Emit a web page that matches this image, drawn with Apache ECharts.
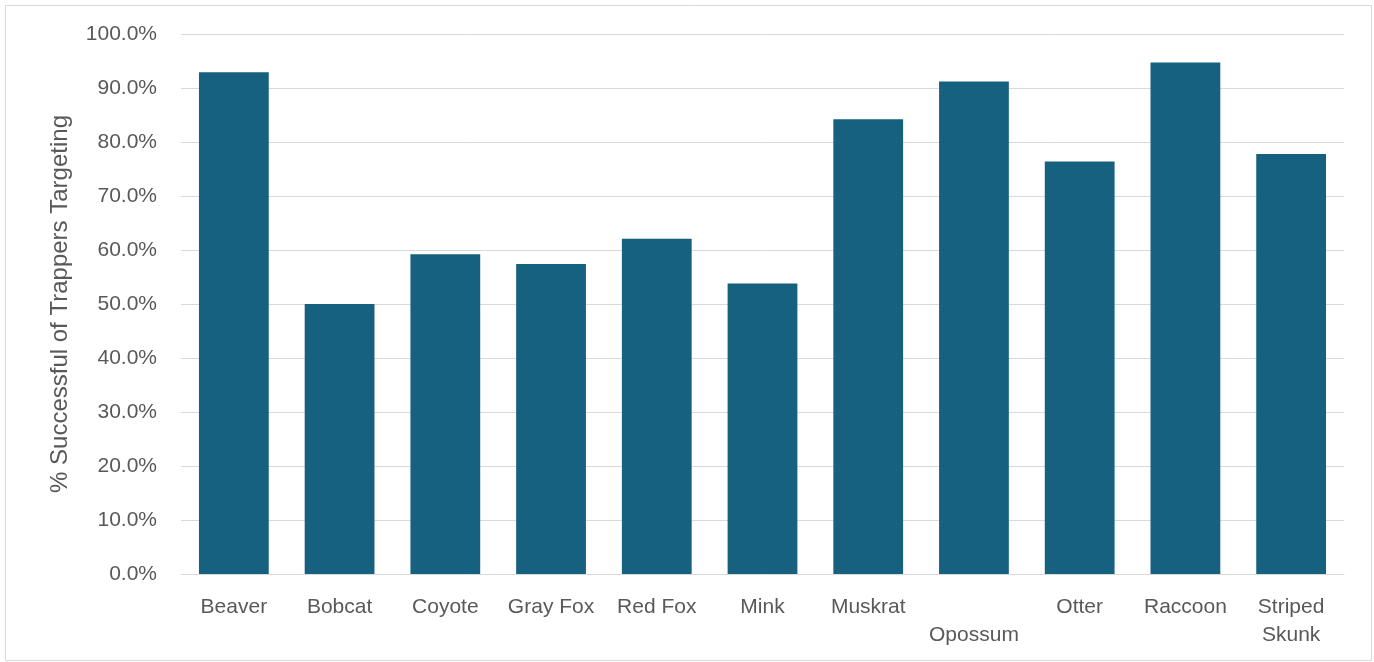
<!DOCTYPE html>
<html>
<head>
<meta charset="utf-8">
<script src="https://cdn.jsdelivr.net/npm/echarts@6/dist/echarts.min.js"></script>
<style>
html,body{margin:0;padding:0;background:#fff;}
#chart{width:1374px;height:662px;}
</style>
</head>
<body>
<div id="chart"></div>
<script>
const categories = ['Beaver','Bobcat','Coyote','Gray Fox','Red Fox','Mink','Muskrat','\nOpossum','Otter','Raccoon','Striped\nSkunk'];
const successRate = [0.929, 0.500, 0.592, 0.574, 0.621, 0.538, 0.842, 0.912, 0.764, 0.947, 0.778];
const yTitle = '% Successful of Trappers Targeting';

const chart = echarts.init(document.getElementById('chart'));
const fontFamily = '"Liberation Sans", Arial, sans-serif';
chart.setOption({
  animation: false,
  backgroundColor: '#ffffff',
  graphic: [{
    type: 'rect',
    shape: {x: 5.5, y: 5.5, width: 1366, height: 655},
    style: {fill: 'none', stroke: '#d9d9d9', lineWidth: 1},
    silent: true
  }],
  grid: {left: 181, right: 30, top: 34, bottom: 88},
  xAxis: {
    type: 'category',
    data: categories,
    axisTick: {show: false},
    axisLine: {lineStyle: {color: '#d9d9d9', width: 1}},
    axisLabel: {color: '#595959', fontSize: 21, fontFamily: fontFamily, margin: 19, lineHeight: 28, interval: 0}
  },
  yAxis: {
    type: 'value',
    min: 0, max: 1, interval: 0.1,
    name: yTitle,
    nameLocation: 'middle',
    nameGap: 109,
    nameTextStyle: {color: '#595959', fontSize: 24, fontFamily: fontFamily},
    axisLine: {show: false},
    axisTick: {show: false},
    splitLine: {lineStyle: {color: '#d9d9d9', width: 1}},
    axisLabel: {color: '#595959', fontSize: 21, fontFamily: fontFamily, margin: 24,
      formatter: v => (v * 100).toFixed(1) + '%'}
  },
  series: [{
    type: 'bar',
    data: successRate,
    barCategoryGap: '34%',
    itemStyle: {color: '#166080'}
  }]
});
</script>
</body>
</html>
